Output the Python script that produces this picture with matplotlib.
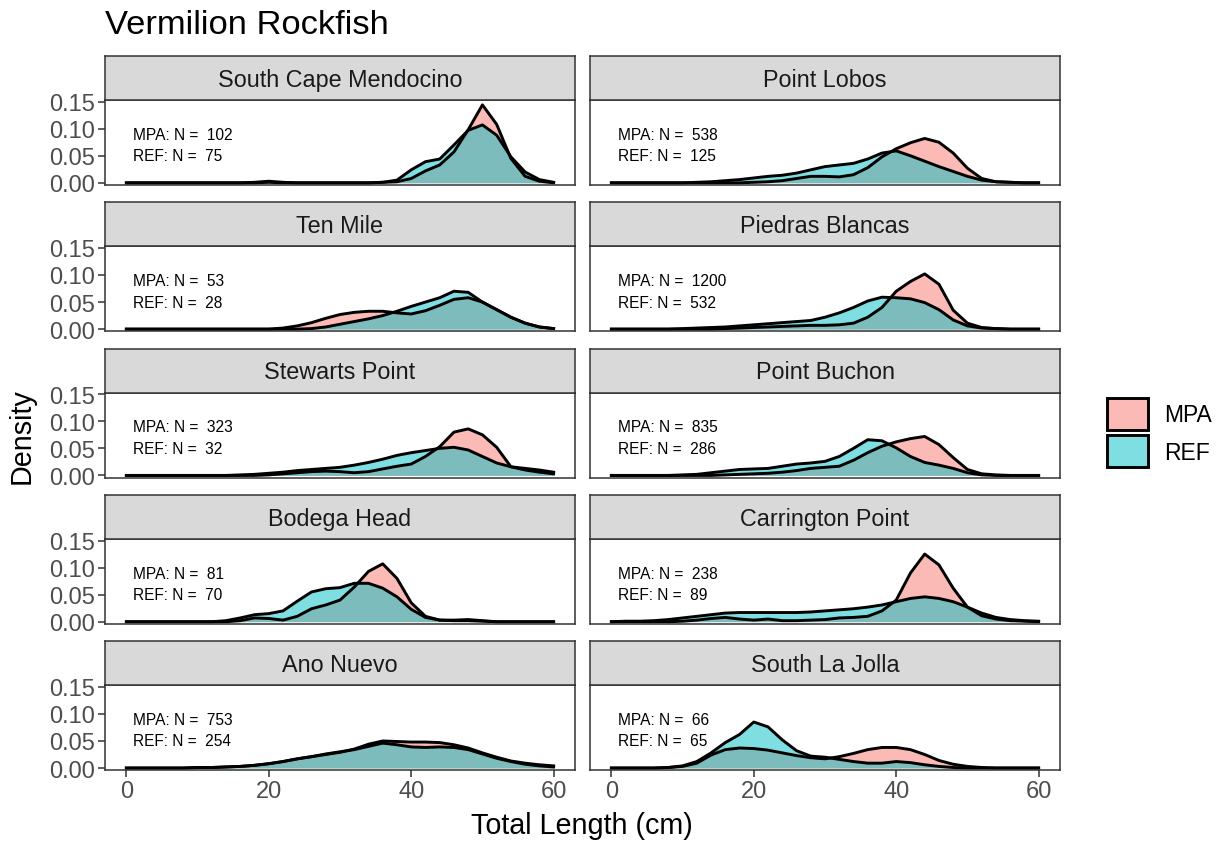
import matplotlib
matplotlib.use('Agg')
import matplotlib.pyplot as plt
from matplotlib.colors import to_rgba
from matplotlib.patches import Patch

plt.rcParams['font.family'] = ['Liberation Sans', 'DejaVu Sans']

# total length grid (cm), densities every 2 cm
length_cm = list(range(0, 61, 2))

sites = ['South Cape Mendocino', 'Point Lobos', 'Ten Mile', 'Piedras Blancas',
         'Stewarts Point', 'Point Buchon', 'Bodega Head', 'Carrington Point',
         'Ano Nuevo', 'South La Jolla']
n_mpa = [102, 538, 53, 1200, 323, 835, 81, 238, 753, 66]
n_ref = [75, 125, 28, 532, 32, 286, 70, 89, 254, 65]

mpa_south_cape = [0, 0, 0, 0, 0, 0, 0, 0, 0, 0.001, 0.003, 0.001, 0, 0, 0, 0, 0, 0, 0.001, 0.002,
                  0.008, 0.022, 0.033, 0.057, 0.098, 0.144, 0.108, 0.045, 0.012, 0.003, 0]
ref_south_cape = [0, 0, 0, 0, 0, 0, 0, 0, 0, 0, 0.001, 0, 0, 0, 0, 0, 0, 0, 0.001, 0.005,
                  0.024, 0.039, 0.044, 0.07, 0.097, 0.107, 0.088, 0.048, 0.02, 0.006, 0.001]
mpa_point_lobos = [0, 0, 0, 0, 0, 0, 0, 0, 0, 0, 0.001, 0.002, 0.004, 0.008, 0.012, 0.012, 0.011, 0.015,
                   0.028, 0.048, 0.063, 0.074, 0.082, 0.075, 0.055, 0.027, 0.008, 0.002, 0.001, 0, 0]
ref_point_lobos = [0, 0, 0, 0, 0, 0, 0.001, 0.002, 0.004, 0.006, 0.009, 0.012, 0.014, 0.018, 0.024, 0.03,
                   0.033, 0.036, 0.044, 0.055, 0.059, 0.05, 0.04, 0.03, 0.021, 0.012, 0.005, 0.002, 0.001, 0, 0]
mpa_ten_mile = [0, 0, 0, 0, 0, 0, 0, 0, 0, 0, 0, 0.002, 0.006, 0.012, 0.02, 0.027, 0.031, 0.033,
                0.033, 0.03, 0.028, 0.034, 0.044, 0.055, 0.058, 0.05, 0.036, 0.022, 0.011, 0.004, 0.001]
ref_ten_mile = [0, 0, 0, 0, 0, 0, 0, 0, 0, 0, 0, 0, 0, 0.001, 0.004, 0.009, 0.014, 0.019,
                0.025, 0.033, 0.042, 0.05, 0.058, 0.07, 0.068, 0.05, 0.036, 0.022, 0.011, 0.004, 0.001]
mpa_piedras = [0, 0, 0, 0, 0, 0, 0, 0, 0.001, 0.002, 0.003, 0.004, 0.005, 0.006, 0.007, 0.007, 0.008,
               0.011, 0.022, 0.04, 0.07, 0.088, 0.102, 0.083, 0.035, 0.011, 0.003, 0.001, 0, 0, 0]
ref_piedras = [0, 0, 0, 0, 0, 0.001, 0.002, 0.003, 0.004, 0.006, 0.008, 0.01, 0.012, 0.014, 0.016, 0.022,
               0.03, 0.04, 0.052, 0.059, 0.058, 0.056, 0.049, 0.036, 0.017, 0.006, 0.002, 0.001, 0, 0, 0]
mpa_stewarts = [0, 0, 0, 0, 0, 0, 0, 0, 0, 0, 0.001, 0.003, 0.005, 0.007, 0.008, 0.007, 0.005, 0.007,
                0.012, 0.017, 0.021, 0.035, 0.053, 0.08, 0.086, 0.075, 0.052, 0.016, 0.01, 0.006, 0.003]
ref_stewarts = [0, 0, 0, 0, 0, 0, 0, 0, 0.001, 0.002, 0.004, 0.006, 0.009, 0.011, 0.013, 0.015, 0.019,
                0.024, 0.03, 0.037, 0.042, 0.046, 0.05, 0.052, 0.047, 0.035, 0.023, 0.016, 0.013, 0.01, 0.006]
mpa_buchon = [0, 0, 0, 0, 0, 0, 0, 0, 0.001, 0.002, 0.003, 0.004, 0.006, 0.009, 0.013, 0.015, 0.017,
              0.028, 0.042, 0.054, 0.062, 0.068, 0.072, 0.057, 0.033, 0.011, 0.003, 0.001, 0, 0, 0]
ref_buchon = [0, 0, 0, 0, 0, 0.001, 0.002, 0.005, 0.008, 0.011, 0.012, 0.013, 0.017, 0.021, 0.023, 0.026,
              0.035, 0.05, 0.066, 0.064, 0.051, 0.035, 0.024, 0.019, 0.013, 0.005, 0.001, 0, 0, 0, 0]
mpa_bodega = [0, 0, 0, 0, 0, 0, 0, 0, 0.002, 0.007, 0.006, 0.003, 0.01, 0.024, 0.031, 0.04, 0.064,
              0.093, 0.107, 0.08, 0.035, 0.01, 0.003, 0.003, 0.004, 0.002, 0, 0, 0, 0, 0]
ref_bodega = [0, 0, 0, 0, 0, 0, 0, 0.002, 0.007, 0.013, 0.015, 0.02, 0.038, 0.055, 0.061, 0.063, 0.071,
              0.071, 0.062, 0.046, 0.023, 0.008, 0.003, 0.002, 0.002, 0.001, 0, 0, 0, 0, 0]
mpa_carrington = [0, 0, 0, 0, 0, 0.001, 0.003, 0.006, 0.008, 0.005, 0.003, 0.005, 0.002, 0.002, 0.003, 0.004,
                  0.007, 0.008, 0.01, 0.02, 0.04, 0.09, 0.125, 0.105, 0.062, 0.027, 0.011, 0.005, 0.002, 0.001, 0]
ref_carrington = [0, 0.001, 0.001, 0.002, 0.004, 0.007, 0.01, 0.013, 0.016, 0.017, 0.017, 0.017, 0.017, 0.017,
                  0.018, 0.02, 0.022, 0.024, 0.027, 0.031, 0.037, 0.043, 0.046, 0.043, 0.037, 0.027, 0.016,
                  0.008, 0.004, 0.002, 0.001]
mpa_ano_nuevo = [0, 0, 0, 0, 0, 0.001, 0.001, 0.002, 0.003, 0.005, 0.008, 0.012, 0.017, 0.021, 0.025, 0.029,
                 0.035, 0.044, 0.05, 0.049, 0.048, 0.048, 0.047, 0.043, 0.037, 0.028, 0.02, 0.013, 0.009, 0.006, 0.004]
ref_ano_nuevo = [0, 0, 0, 0, 0, 0.001, 0.001, 0.002, 0.003, 0.005, 0.008, 0.012, 0.017, 0.021, 0.026, 0.03,
                 0.034, 0.04, 0.046, 0.043, 0.039, 0.038, 0.039, 0.038, 0.034, 0.026, 0.018, 0.012, 0.007, 0.004, 0.002]
mpa_la_jolla = [0, 0, 0, 0, 0.001, 0.003, 0.009, 0.024, 0.034, 0.037, 0.036, 0.033, 0.028, 0.023, 0.019, 0.017,
                0.021, 0.027, 0.034, 0.038, 0.038, 0.034, 0.025, 0.014, 0.007, 0.003, 0.001, 0, 0, 0, 0]
ref_la_jolla = [0, 0, 0, 0, 0.001, 0.004, 0.012, 0.028, 0.047, 0.062, 0.085, 0.076, 0.052, 0.032, 0.022, 0.02,
                0.016, 0.012, 0.009, 0.009, 0.012, 0.01, 0.006, 0.003, 0.001, 0, 0, 0, 0, 0, 0]

mpa_dens = [mpa_south_cape, mpa_point_lobos, mpa_ten_mile, mpa_piedras, mpa_stewarts,
            mpa_buchon, mpa_bodega, mpa_carrington, mpa_ano_nuevo, mpa_la_jolla]
ref_dens = [ref_south_cape, ref_point_lobos, ref_ten_mile, ref_piedras, ref_stewarts,
            ref_buchon, ref_bodega, ref_carrington, ref_ano_nuevo, ref_la_jolla]

MPA_FILL = to_rgba('#F8766D', 0.5)
REF_FILL = to_rgba('#00BFC4', 0.5)
EDGE = '#333333'
LW = 2.1
W, H = 1223, 845


def box(left, top, w, h):
    return [left / W, 1 - (top + h) / H, w / W, h / H]


fig = plt.figure(figsize=(W / 100, H / 100), dpi=100)

for i, site in enumerate(sites):
    r, c = divmod(i, 2)
    left = 105 if c == 0 else 590
    top = 101 + r * 146.3

    ax = fig.add_axes(box(left, top, 470, 85))
    ax.fill_between(length_cm, mpa_dens[i], color=MPA_FILL, lw=0)
    ax.plot(length_cm, mpa_dens[i], color='black', lw=LW, solid_joinstyle='round')
    ax.fill_between(length_cm, ref_dens[i], color=REF_FILL, lw=0)
    ax.plot(length_cm, ref_dens[i], color='black', lw=LW, solid_joinstyle='round')

    ax.text(1, 0.09, 'MPA: N =  %d' % n_mpa[i], fontsize=11.2, va='center', ha='left')
    ax.text(1, 0.05, 'REF: N =  %d' % n_ref[i], fontsize=11.2, va='center', ha='left')

    ax.set_xlim(-3, 63)
    ax.set_ylim(-0.004, 0.153)
    ax.set_xticks([0, 20, 40, 60])
    ax.set_yticks([0, 0.05, 0.10, 0.15])
    ax.set_yticklabels(['0.00', '0.05', '0.10', '0.15'])
    for s in ax.spines.values():
        s.set_color(EDGE)
        s.set_linewidth(1.1)
    ax.tick_params(colors=EDGE, labelcolor='#4D4D4D', labelsize=17, width=1.1, length=5, pad=2)
    if c != 0:
        ax.tick_params(axis='y', length=0, labelleft=False)
    if r != 4:
        ax.tick_params(axis='x', length=0, labelbottom=False)

    # facet strip
    st = fig.add_axes(box(left, top - 44, 470, 44))
    st.set_facecolor('#D9D9D9')
    st.set_xticks([])
    st.set_yticks([])
    for s in st.spines.values():
        s.set_color(EDGE)
        s.set_linewidth(1.1)
    st.text(0.5, 0.47, site, fontsize=16.8, color='#1A1A1A', ha='center', va='center',
            transform=st.transAxes)

fig.text(105 / W, 1 - 34 / H, 'Vermilion Rockfish', fontsize=24.8, ha='left', va='baseline')
fig.text(22 / W, 1 - 436 / H, 'Density', fontsize=20.7, rotation=90, ha='center', va='center')
fig.text(582 / W, 1 - 826 / H, 'Total Length (cm)', fontsize=20.7, ha='center', va='center')

handles = [Patch(facecolor=MPA_FILL, edgecolor='black', lw=LW, label='MPA'),
           Patch(facecolor=REF_FILL, edgecolor='black', lw=LW, label='REF')]
fig.legend(handles=handles, loc='upper left', bbox_to_anchor=(1107 / W, 1 - 399 / H),
           frameon=False, fontsize=16.5, handlelength=1.78, handleheight=1.78,
           handletextpad=0.7, labelspacing=0.22, borderpad=0, borderaxespad=0)

fig.savefig('out.png', dpi=100)
